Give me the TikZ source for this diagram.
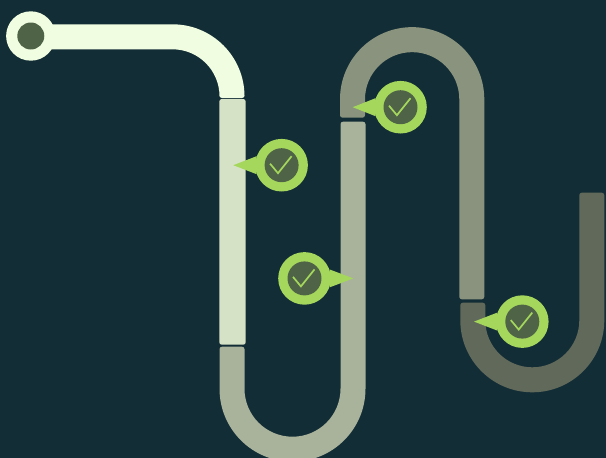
\documentclass[tikz,border=0pt]{standalone}
\definecolor{bgc}{HTML}{132D36}
\definecolor{sega}{HTML}{F0FDE0}
\definecolor{segb}{HTML}{D6E2C5}
\definecolor{segc}{HTML}{A9B29B}
\definecolor{segd}{HTML}{8A937D}
\definecolor{sege}{HTML}{61695A}
\definecolor{pingreen}{HTML}{A5D75C}
\definecolor{pindark}{HTML}{4F6347}
\tikzset{
  pinouter/.style={circle,fill=pingreen,minimum size=52.6pt,inner sep=0pt,draw=none},
  pininner/.style={circle,fill=pindark,minimum size=34pt,inner sep=0pt,draw=none},
  checkmark/.style={draw=pingreen,line width=1.7pt,line cap=butt,line join=miter}
}
% name, centre x, centre y, tip x, base dx
\newcommand{\statuspin}[5]{%
  \node[pinouter] (#1o) at (#2,#3) {};
  \coordinate (#1t) at (#4,#3);
  \fill[pingreen] (#1t) -- ($(#1o)+(#5,-9)$) -- ($(#1o)+(#5,9)$) -- cycle;
  \node[pininner] (#1i) at (#1o) {};
  \draw[checkmark] ($(#1i)+(-11.5,-1.5)$) -- ($(#1i)+(-3.6,8)$) -- ($(#1i)+(10,-9)$);
}
\usetikzlibrary{calc}
\begin{document}
\begin{tikzpicture}[x=1pt,y=-1pt]
\useasboundingbox (0,0) rectangle (606,458);
\clip (0,0) rectangle (606,458);
\fill[bgc] (0,0) rectangle (606,458);
% segment 1
\fill[sega] (31,24.3) -- (172.5,24.3) arc[start angle=-90,end angle=0,radius=72]
  -- (244.5,95.5) arc[start angle=0,end angle=90,radius=2.5]
  -- (222,98) arc[start angle=90,end angle=180,radius=2.5]
  -- (219.5,96.3) arc[start angle=0,end angle=-90,radius=47]
  -- (31,49.3) -- cycle;
\node[circle,fill=sega,minimum size=49.4pt,inner sep=0pt] (startouter) at (30.8,36) {};
\node[circle,fill=pindark,minimum size=27pt,inner sep=0pt] (startinner) at (startouter) {};
% segment 2
\fill[segb,rounded corners=2.5pt] (219.3,99) rectangle (245.7,344.7);
% segment 3
\fill[segc] (219.5,349.2) arc[start angle=180,end angle=270,radius=2.5]
  -- (242,346.7) arc[start angle=-90,end angle=0,radius=2.5]
  -- (244.5,388.7) arc[start angle=180,end angle=0,radius=48]
  -- (340.5,124.2) arc[start angle=180,end angle=270,radius=2.5]
  -- (363,121.7) arc[start angle=-90,end angle=0,radius=2.5]
  -- (365.5,388.7) arc[start angle=0,end angle=180,radius=73]
  -- cycle;
% segment 4
\fill[segd] (340,115.2) -- (340,99.3) arc[start angle=180,end angle=360,radius=72.15]
  -- (484.3,296.8) arc[start angle=0,end angle=90,radius=2.5]
  -- (461.8,299.3) arc[start angle=90,end angle=180,radius=2.5]
  -- (459.3,99.3) arc[start angle=360,end angle=180,radius=47.15]
  -- (365,115.2) arc[start angle=0,end angle=90,radius=2.5]
  -- (342.5,117.7) arc[start angle=90,end angle=180,radius=2.5]
  -- cycle;
% segment 5
\fill[sege] (460.3,305.2) arc[start angle=180,end angle=270,radius=2.5]
  -- (482.8,302.7) arc[start angle=-90,end angle=0,radius=2.5]
  -- (485.3,320.3) arc[start angle=180,end angle=0,radius=47]
  -- (579.3,195.2) arc[start angle=180,end angle=270,radius=2.5]
  -- (601.8,192.7) arc[start angle=-90,end angle=0,radius=2.5]
  -- (604.3,320.3) arc[start angle=0,end angle=180,radius=72]
  -- cycle;
% status pins
\statuspin{pa}{281.6}{165.2}{233.3}{-25}
\statuspin{pb}{304.5}{278.4}{353.3}{25}
\statuspin{pc}{400.5}{107.2}{352.7}{-25}
\statuspin{pd}{522.3}{321.6}{474}{-25}
\end{tikzpicture}
\end{document}
